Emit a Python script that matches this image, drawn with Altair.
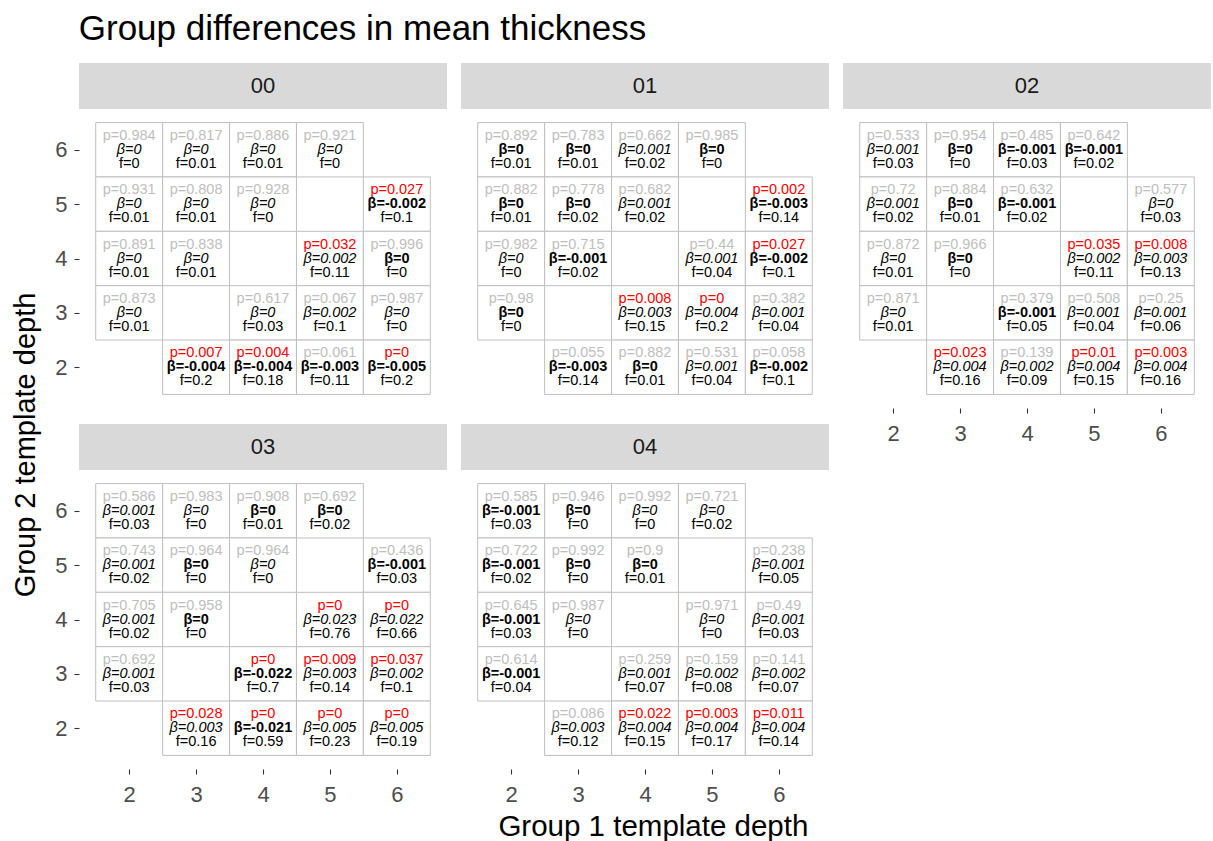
import altair as alt
import pandas as pd

PANELS = ["00", "01", "02", "03", "04"]

# Tile positions (group 1 depth, group 2 depth), listed row by row from the top
CELL_X = [2, 3, 4, 5, 2, 3, 4, 6, 2, 3, 5, 6, 2, 4, 5, 6, 3, 4, 5, 6]
CELL_Y = [6, 6, 6, 6, 5, 5, 5, 5, 4, 4, 4, 4, 3, 3, 3, 3, 2, 2, 2, 2]

# p-values, rounded estimates, effect sizes; NEG marks a negative estimate (bold)
P_00 = [0.984, 0.817, 0.886, 0.921, 0.931, 0.808, 0.928, 0.027, 0.891, 0.838,
        0.032, 0.996, 0.873, 0.617, 0.067, 0.987, 0.007, 0.004, 0.061, 0]
B_00 = [0, 0, 0, 0, 0, 0, 0, -0.002, 0, 0, 0.002, 0, 0, 0, 0.002, 0,
        -0.004, -0.004, -0.003, -0.005]
F_00 = [0, 0.01, 0.01, 0, 0.01, 0.01, 0, 0.1, 0.01, 0.01, 0.11, 0, 0.01, 0.03,
        0.1, 0, 0.2, 0.18, 0.11, 0.2]
NEG_00 = "00000001000100001111"

P_01 = [0.892, 0.783, 0.662, 0.985, 0.882, 0.778, 0.682, 0.002, 0.982, 0.715,
        0.44, 0.027, 0.98, 0.008, 0, 0.382, 0.055, 0.882, 0.531, 0.058]
B_01 = [0, 0, 0.001, 0, 0, 0, 0.001, -0.003, 0, -0.001, 0.001, -0.002, 0, 0.003,
        0.004, 0.001, -0.003, 0, 0.001, -0.002]
F_01 = [0.01, 0.01, 0.02, 0, 0.01, 0.02, 0.02, 0.14, 0, 0.02, 0.04, 0.1, 0, 0.15,
        0.2, 0.04, 0.14, 0.01, 0.04, 0.1]
NEG_01 = "11011101010110001101"

P_02 = [0.533, 0.954, 0.485, 0.642, 0.72, 0.884, 0.632, 0.577, 0.872, 0.966,
        0.035, 0.008, 0.871, 0.379, 0.508, 0.25, 0.023, 0.139, 0.01, 0.003]
B_02 = [0.001, 0, -0.001, -0.001, 0.001, 0, -0.001, 0, 0, 0, 0.002, 0.003, 0,
        -0.001, 0.001, 0.001, 0.004, 0.002, 0.004, 0.004]
F_02 = [0.03, 0, 0.03, 0.02, 0.02, 0.01, 0.02, 0.03, 0.01, 0, 0.11, 0.13, 0.01,
        0.05, 0.04, 0.06, 0.16, 0.09, 0.15, 0.16]
NEG_02 = "01110110010001000000"

P_03 = [0.586, 0.983, 0.908, 0.692, 0.743, 0.964, 0.964, 0.436, 0.705, 0.958,
        0, 0, 0.692, 0, 0.009, 0.037, 0.028, 0, 0, 0]
B_03 = [0.001, 0, 0, 0, 0.001, 0, 0, -0.001, 0.001, 0, 0.023, 0.022, 0.001,
        -0.022, 0.003, 0.002, 0.003, -0.021, 0.005, 0.005]
F_03 = [0.03, 0, 0.01, 0.02, 0.02, 0, 0, 0.03, 0.02, 0, 0.76, 0.66, 0.03, 0.7,
        0.14, 0.1, 0.16, 0.59, 0.23, 0.19]
NEG_03 = "00110101010001000100"

P_04 = [0.585, 0.946, 0.992, 0.721, 0.722, 0.992, 0.9, 0.238, 0.645, 0.987,
        0.971, 0.49, 0.614, 0.259, 0.159, 0.141, 0.086, 0.022, 0.003, 0.011]
B_04 = [-0.001, 0, 0, 0, -0.001, 0, 0, 0.001, -0.001, 0, 0, 0.001, -0.001,
        0.001, 0.002, 0.002, 0.003, 0.004, 0.004, 0.004]
F_04 = [0.03, 0, 0, 0.02, 0.02, 0, 0.01, 0.05, 0.03, 0, 0, 0.03, 0.04, 0.07,
        0.08, 0.07, 0.12, 0.15, 0.17, 0.14]
NEG_04 = "11001110100010000000"

TICKS = [2, 3, 4, 5, 6]

SERIES = {
    "00": (P_00, B_00, F_00, NEG_00),
    "01": (P_01, B_01, F_01, NEG_01),
    "02": (P_02, B_02, F_02, NEG_02),
    "03": (P_03, B_03, F_03, NEG_03),
    "04": (P_04, B_04, F_04, NEG_04),
}

FONT = "Liberation Sans"
PANEL_W = 368
PANEL_H = 299
STRIP_H = 46
TXT = 14.5
LINE = 14


def num(v):
    return f"{v:g}"


def panel_frame(name):
    p, b, f, neg = SERIES[name]
    return pd.DataFrame({
        "x": CELL_X,
        "y": CELL_Y,
        "x0": [v - 0.5 for v in CELL_X],
        "x1": [v + 0.5 for v in CELL_X],
        "y0": [v - 0.5 for v in CELL_Y],
        "y1": [v + 0.5 for v in CELL_Y],
        "p": p,
        "neg": [c == "1" for c in neg],
        "plab": ["p=" + num(v) for v in p],
        "blab": ["β=" + num(v) for v in b],
        "flab": ["f=" + num(v) for v in f],
    })


def strip(name):
    lab = pd.DataFrame({"panel": [name]})
    band = alt.Chart(lab).mark_rect().encode(color=alt.value("#d9d9d9"))
    text = alt.Chart(lab).mark_text(
        font=FONT, fontSize=22, color="#1a1a1a", baseline="middle", align="center"
    ).encode(text="panel:N")
    return alt.layer(band, text).properties(width=PANEL_W, height=STRIP_H)


def grid(name, show_x, show_y):
    df = panel_frame(name)
    dom = [1.25, 6.75]
    axis_common = dict(
        values=TICKS, format="d", title=None, grid=False, domain=False, ticks=True,
        tickColor="#333333", tickSize=5, tickWidth=1.1, labelFont=FONT,
        labelFontSize=22, labelColor="#4d4d4d",
    )
    xaxis = alt.Axis(labelPadding=10, **axis_common) if show_x else None
    yaxis = alt.Axis(labelPadding=7, **axis_common) if show_y else None
    xs = alt.Scale(domain=dom, nice=False, zero=False)
    ys = alt.Scale(domain=dom, nice=False, zero=False)

    base = alt.Chart(df)
    tiles = base.mark_rect(fill="white", stroke="#bebebe", strokeWidth=1).encode(
        x=alt.X("x0:Q", scale=xs, axis=xaxis),
        x2="x1:Q",
        y=alt.Y("y0:Q", scale=ys, axis=yaxis),
        y2="y1:Q",
    )
    pos = dict(x=alt.X("x:Q", scale=xs), y=alt.Y("y:Q", scale=ys))
    ptxt = base.mark_text(font=FONT, fontSize=TXT, dy=-LINE, baseline="middle").encode(
        text="plab:N",
        color=alt.condition(alt.datum.p < 0.05, alt.value("#ff0000"), alt.value("#bebebe")),
        **pos,
    )
    bneg = base.transform_filter(alt.datum.neg).mark_text(
        font=FONT, fontSize=TXT, fontWeight="bold", color="black", baseline="middle"
    ).encode(text="blab:N", **pos)
    bpos = base.transform_filter(~alt.datum.neg).mark_text(
        font=FONT, fontSize=TXT, fontStyle="italic", color="black", baseline="middle"
    ).encode(text="blab:N", **pos)
    ftxt = base.mark_text(font=FONT, fontSize=TXT, dy=LINE, color="black", baseline="middle").encode(
        text="flab:N", **pos
    )
    return alt.layer(tiles, ptxt, bneg, bpos, ftxt).properties(width=PANEL_W, height=PANEL_H)


def panel(name, show_x, show_y):
    return alt.vconcat(strip(name), grid(name, show_x, show_y), spacing=0)


col1 = alt.vconcat(panel("00", False, True), panel("03", True, True), spacing=16)
col2 = alt.vconcat(panel("01", False, False), panel("04", True, False), spacing=16)
col3 = alt.vconcat(panel("02", True, False), spacing=16)

body = alt.hconcat(
    col1, col2, col3, spacing=14,
    title=alt.Title("Group 2 template depth", orient="left", anchor="middle",
                    font=FONT, fontSize=29, fontWeight="normal", color="black",
                    offset=14, dx=-11),
)
with_x = alt.vconcat(
    body,
    title=alt.Title("Group 1 template depth", orient="bottom", anchor="middle",
                    font=FONT, fontSize=29.5, fontWeight="normal", color="black",
                    offset=8, dx=42),
)
chart = alt.vconcat(
    with_x,
    title=alt.Title("Group differences in mean thickness", anchor="start",
                    font=FONT, fontSize=35, fontWeight="normal", color="black",
                    offset=16, dx=67),
).properties(
    padding={"left": 11, "top": 12, "right": 0, "bottom": 0},
    background="white",
).configure_view(stroke=None)

chart.save("out.html", embed_options={"renderer": "svg", "actions": False})
